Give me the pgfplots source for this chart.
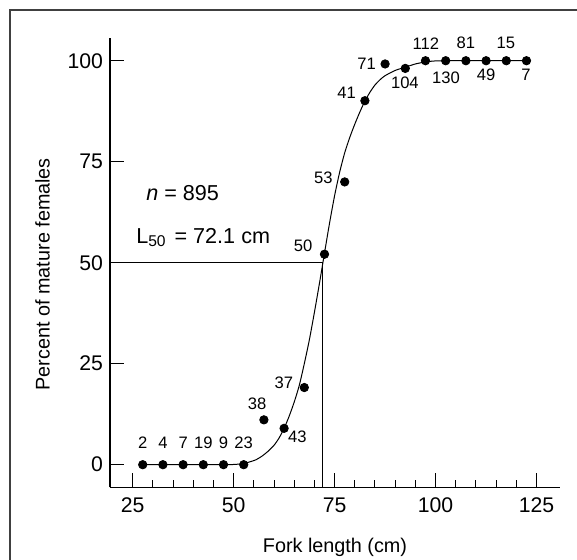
\documentclass[border=0pt]{standalone}
\usepackage{fontspec}
\setmainfont{Liberation Sans}
\usepackage{pgfplots}
\pgfplotsset{compat=1.18}

% percent mature by 5-cm fork-length class
\pgfplotstableread{
x y
27.5 0
32.5 0
37.5 0
42.5 0
47.5 0
52.5 0
57.5 11.1
62.5 9.0
67.5 19.1
72.5 52.1
77.5 70.0
82.5 90.1
87.5 99.2
92.5 98.1
97.5 100
102.5 100
107.5 100
112.5 100
117.5 100
122.5 100
}\mature

% fitted maturity ogive
\pgfplotstableread{
x y
27.5 0
35 0
40 0
45 0
50 0.05
52.5 0.3
54 0.7
55.5 1.2
57 2.1
58.5 3.3
60 4.8
61.25 6.6
62.5 9.0
63.75 12.0
65 15.5
66.25 19.6
67.5 25.0
68.75 30.9
70 37.7
71.25 44.9
72.5 52.4
73.75 59.8
75 66.6
76.25 72.4
77.5 77.2
78.75 81.0
80 84.3
81.25 87.3
82.5 90.0
83.75 92.2
85 94.0
86.25 95.3
87.5 96.3
90 97.6
92.5 98.4
95 99.2
97.5 99.7
100 99.95
105 100
122.5 100
}\ogive

\begin{document}
\begin{tikzpicture}
\useasboundingbox (-55pt,-35.85pt) rectangle (233.5pt,243.65pt);
% outer frame (left and top edges)
\draw[black!75, line width=1pt] (-50.15pt,-40pt) -- (-50.15pt,238.55pt) -- (240pt,238.55pt);
\begin{axis}[
  scale only axis,
  width=225pt, height=224.8pt,
  xmin=19.4, xmax=130.8,
  ymin=-5.6, ymax=105.7,
  axis lines=left,
  axis line style={-, line width=0.6pt},
  tick align=inside,
  xtick pos=bottom, ytick pos=left,
  xtick={25,50,75,100,125},
  ytick={0,25,50,75,100},
  minor x tick num=4,
  minor y tick num=0,
  major tick length=7pt,
  minor tick length=3.5pt,
  tick style={black, line width=0.5pt},
  /pgf/number format/assume math mode=true,
  ticklabel style={font=\fontsize{10.6}{12}\selectfont},
  xticklabel style={yshift=-1.7pt},
  xlabel={Fork length (cm)},
  ylabel={Percent of mature females},
  label style={font=\fontsize{9.9}{12}\selectfont},
  xlabel style={at={(axis description cs:0.5,-0.1446)}, anchor=base},
  ylabel style={at={(axis description cs:-0.15,0.474)}, anchor=center},
  clip=false,
]
% L50 reference lines
\addplot[black, line width=0.45pt] coordinates {(19.4,50) (72.1,50) (72.1,-5.6)};
\addplot[black, line width=0.5pt, smooth, tension=0.4] table[x=x,y=y] {\ogive};
\addplot[only marks, mark=*, mark size=2.1pt, black] table[x=x,y=y] {\mature};

\begin{scope}[every node/.style={font=\fontsize{8.3}{9}\selectfont, inner sep=0pt}]
\node at (axis cs:27.5,5.45) {2};
\node at (axis cs:32.5,5.45) {4};
\node at (axis cs:37.5,5.45) {7};
\node at (axis cs:42.5,5.45) {19};
\node at (axis cs:47.5,5.45) {9};
\node at (axis cs:52.5,5.45) {23};
\node at (axis cs:55.8,15.2) {38};
\node at (axis cs:65.8,6.9) {43};
\node at (axis cs:62.45,20.3) {37};
\node at (axis cs:67.2,54.1) {50};
\node at (axis cs:72.2,70.9) {53};
\node at (axis cs:78.0,92.1) {41};
\node at (axis cs:82.9,99.2) {71};
\node at (axis cs:92.4,94.6) {104};
\node at (axis cs:97.6,104.3) {112};
\node at (axis cs:102.55,95.8) {130};
\node at (axis cs:107.5,104.5) {81};
\node at (axis cs:112.5,96.5) {49};
\node at (axis cs:117.4,104.3) {15};
\node at (axis cs:122.4,96.4) {7};
\end{scope}

\node[anchor=base west, inner sep=0pt, font=\fontsize{10.8}{12}\selectfont]
  at (axis cs:28.3,65.5) {\textit{n} = 895};
\node[anchor=base west, inner sep=0pt, font=\fontsize{10.8}{12}\selectfont]
  at (axis cs:25.8,54.8) {L\raisebox{-1.4pt}{\fontsize{7.8}{8}\selectfont 50}\hspace{4.5pt}= 72.1 cm};
\end{axis}
\end{tikzpicture}
\end{document}
